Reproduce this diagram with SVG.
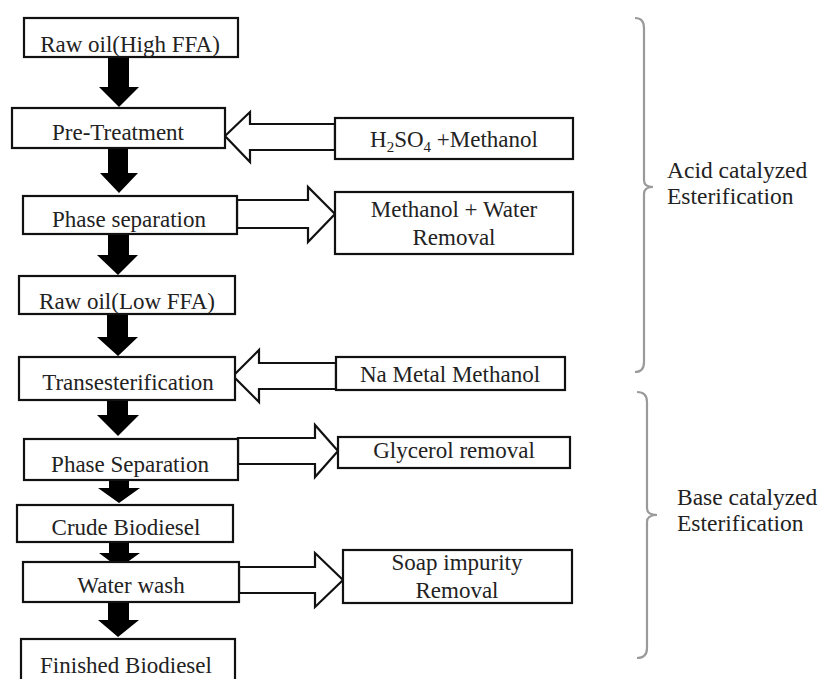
<svg xmlns="http://www.w3.org/2000/svg" width="821" height="679" viewBox="0 0 821 679">
<style>
.box{fill:#fff;stroke:#111;stroke-width:2.2}
text{font-family:'Liberation Serif','Times New Roman',Times,serif;font-size:23px;fill:#222}
.t{text-anchor:middle}
.lab{font-size:23.5px}
.blk{fill:#000;stroke:none}
.hol{fill:#fff;stroke:#111;stroke-width:2.2;stroke-linejoin:miter}
.brace{fill:none;stroke:#9a9a9a;stroke-width:2.2}
</style>
<rect width="821" height="679" fill="#fff"/>
<g id="connectors">
<polygon class="blk" points="108,57 129,57 129,87 139,87 119,107 99,87 108,87"/>
<polygon class="blk" points="108,148 128,148 128,173 138,173 119,193 100,173 108,173"/>
<polygon class="blk" points="108,234 129,234 129,255 138,255 118,275 97,255 108,255"/>
<polygon class="blk" points="107,314 128,314 128,337 138,337 118,356 97,337 107,337"/>
<polygon class="blk" points="107,400 128,400 128,415 139,415 118,436 97,415 107,415"/>
<polygon class="blk" points="109,480 129,480 129,488 140,488 119,503 98,488 109,488"/>
<polygon class="blk" points="109,542 129,542 129,553 140,553 119,568 99,553 109,553"/>
<polygon class="blk" points="108,602 129,602 129,620 139,620 118,637 98,620 108,620"/>
<polygon class="hol" points="335,124 250,124 250,112 225,136 250,162 250,150 335,150"/>
<polygon class="hol" points="237,200 308,200 308,187 335,214 308,242 308,228 237,228"/>
<polygon class="hol" points="336,363 259,363 259,350 233,376 259,402 259,389 336,389"/>
<polygon class="hol" points="238,438 315,438 315,425 338,451 315,477 315,464 238,464"/>
<polygon class="hol" points="239,567 315,567 315,553 343,580 315,607 315,593 239,593"/>
</g>
<g id="n1"><rect class="box" x="24" y="18" width="214" height="39"/><text class="t" x="130" y="52">Raw oil(High FFA)</text></g>
<g id="n2"><rect class="box" x="12" y="108" width="213" height="40"/><text class="t" x="118" y="140">Pre-Treatment</text></g>
<g id="n3"><rect class="box" x="23" y="196" width="214" height="38"/><text class="t" x="129" y="227">Phase separation</text></g>
<g id="n4"><rect class="box" x="19" y="276" width="216" height="38"/><text class="t" x="127" y="309">Raw oil(Low FFA)</text></g>
<g id="n5"><rect class="box" x="19" y="357" width="216" height="43"/><text class="t" x="128" y="390">Transesterification</text></g>
<g id="n6"><rect class="box" x="24" y="439" width="214" height="41"/><text class="t" x="130" y="472">Phase Separation</text></g>
<g id="n7"><rect class="box" x="17" y="505" width="216" height="37"/><text class="t" x="126" y="535">Crude Biodiesel</text></g>
<g id="n8"><rect class="box" x="23" y="562" width="216" height="40"/><text class="t" x="131" y="593">Water wash</text></g>
<g id="n9"><rect class="box" x="21" y="639" width="214" height="50"/><text class="t" x="126" y="673">Finished Biodiesel</text></g>
<g id="s1"><rect class="box" x="335" y="118" width="238" height="41"/><text class="t" x="454" y="147">H<tspan font-size="15" dy="5">2</tspan><tspan dy="-5">SO</tspan><tspan font-size="15" dy="5">4</tspan><tspan dy="-5"> +Methanol</tspan></text></g>
<g id="s2"><rect class="box" x="335" y="192" width="238" height="62"/><text class="t" x="454" y="217">Methanol + Water</text><text class="t" x="454" y="245">Removal</text></g>
<g id="s3"><rect class="box" x="336" y="357" width="229" height="33"/><text class="t" x="450" y="382">Na Metal Methanol</text></g>
<g id="s4"><rect class="box" x="338" y="437" width="232" height="31"/><text class="t" x="454" y="458">Glycerol removal</text></g>
<g id="s5"><rect class="box" x="343" y="550" width="229" height="53"/><text class="t" x="457" y="570">Soap impurity</text><text class="t" x="457" y="598">Removal</text></g>
<g id="braces">
<path class="brace" d="M635,18 Q644,18 644,28 L644,180 Q644,187 653,187 Q644,187 644,194 L644,362 Q644,372 635,372"/>
<path class="brace" d="M637,392 Q647,392 647,402 L647,508 Q647,515 657,515 Q647,515 647,522 L647,648 Q647,658 637,658"/>
</g>
<g id="labels">
<text class="lab" x="667" y="178">Acid catalyzed</text>
<text class="lab" x="667" y="204">Esterification</text>
<text class="lab" x="677" y="505">Base catalyzed</text>
<text class="lab" x="677" y="531">Esterification</text>
</g>
</svg>
